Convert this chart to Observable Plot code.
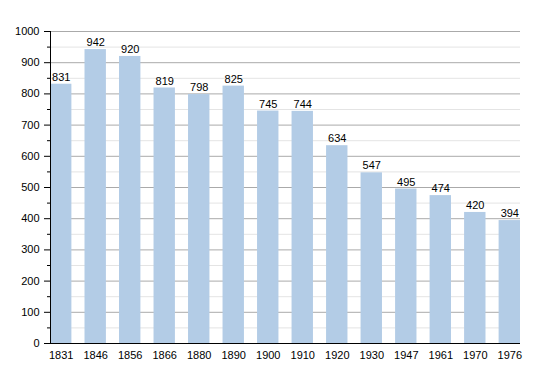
<!DOCTYPE html>
<html><head><meta charset="utf-8">
<script src="https://cdn.jsdelivr.net/npm/d3@7"></script>
<script src="https://cdn.jsdelivr.net/npm/@observablehq/plot@0.6"></script>
<style>body{margin:0;background:#fff;font-family:"Liberation Sans",Arial,sans-serif}</style>
</head><body><div id="chart"></div>
<script>
const years = ["1831","1846","1856","1866","1880","1890","1900","1910","1920","1930","1947","1961","1970","1976"];
const population = [831,942,920,819,798,825,745,744,634,547,495,474,420,394];
const majorTicks = [0,100,200,300,400,500,600,700,800,900,1000];
const minorTicks = [50,150,250,350,450,550,650,750,850,950];

const data = years.map((y,i)=>({year:y, pop:population[i]}));

const chart = Plot.plot({
  width: 550, height: 373,
  marginLeft: 50, marginRight: 30, marginTop: 31, marginBottom: 30,
  style: {fontFamily: '"Liberation Sans",Arial,sans-serif', fontSize: "11px", color: "#000", background: "#fff"},
  x: {domain: years, paddingInner: 0.38, paddingOuter: 0, align: 0, round: false, label: null},
  y: {domain: [0,1000], label: null},
  marks: [
    Plot.ruleY(minorTicks, {stroke: "#e4e4e4", strokeWidth: 1}),
    Plot.ruleY(majorTicks.filter(d=>d>0), {stroke: "#aaaaaa", strokeWidth: 1}),
    Plot.barY(data, {x: "year", y: "pop", fill: "#b3cce6"}),
    Plot.text(data, {x: "year", y: "pop", text: d=>String(d.pop), dy: -7, fill: "#000", fontSize: 11}),
    Plot.axisY(majorTicks, {tickSize: 6, tickPadding: 5, fontSize: 11, stroke: "#000", tickFormat: d=>String(d)}),
    Plot.axisY(minorTicks, {tickSize: 3, stroke: "#000", tickFormat: () => ""}),
    Plot.axisX({tickSize: 0, tickPadding: 8, fontSize: 11}),
    Plot.frame({anchor: "left", stroke: "#000"}),
    Plot.ruleY([0], {stroke: "#000"})
  ]
});
document.getElementById("chart").append(chart);
</script></body></html>
